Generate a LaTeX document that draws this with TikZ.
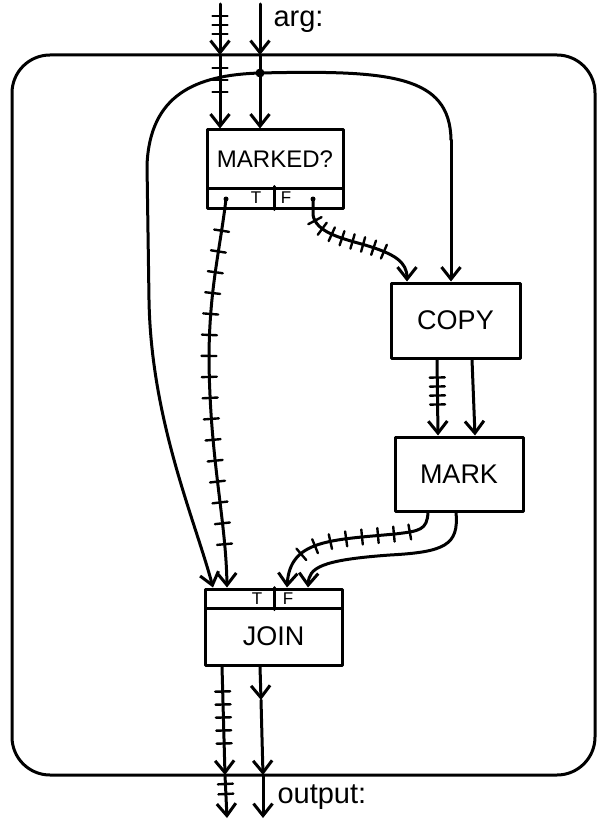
\documentclass[tikz,border=0pt]{standalone}
\usepackage{fontspec}
\setmainfont{Liberation Sans}
\usetikzlibrary{arrows.meta,decorations.markings}
\tikzset{
  arr/.style={-{Straight Barb[length=12pt,width=19pt]}},
  hatch/.style n args={3}{postaction={decorate},decoration={markings,
     mark=between positions #1 and #2 step #3 with {\draw[-,line width=2.4pt] (0,-7.5pt) -- (0,7.5pt);}}},
  box/.style={draw,rectangle,inner sep=0pt,line width=3pt,font=\fontsize{27}{30}\selectfont},
  strip/.style={draw,rectangle,inner sep=0pt,line width=3pt},
  lbl/.style={inner sep=0pt,font=\fontsize{17}{19}\selectfont},
  io/.style={inner sep=0pt,anchor=west,font=\fontsize{29}{32}\selectfont},
}
\begin{document}
\begin{tikzpicture}[x=1pt,y=-1pt,line width=3pt,line cap=round,line join=round]
\useasboundingbox (0,0) rectangle (600,821);
% outer frame
\draw[rounded corners=38pt] (12,55) rectangle (595,775);
% boxes
\node[box,minimum width=136pt,minimum height=58pt,font=\fontsize{24}{27}\selectfont] (marked) at (275,159) {MARKED?};
\node[strip,minimum width=136pt,minimum height=20pt] (markedtf) at (275,198) {};
\node[lbl] (mt) at (256,198) {T};
\node[lbl] (mf) at (286,198) {F};
\draw ([xshift=-1pt]markedtf.north) -- ([xshift=-1pt]markedtf.south);
\node[box,minimum width=129pt,minimum height=75pt] (copy) at (455.5,320.5) {COPY};
\node[box,minimum width=128pt,minimum height=74pt] (mark) at (459,474) {MARK};
\node[strip,minimum width=137pt,minimum height=19pt] (jointf) at (273.5,598.5) {};
\node[lbl] (jt) at (257,599) {T};
\node[lbl] (jf) at (288,599) {F};
\draw ([xshift=0.5pt]jointf.north) -- ([xshift=0.5pt]jointf.south);
\node[box,minimum width=137pt,minimum height=57pt] (join) at (273.5,636.5) {JOIN};
% coordinates
\coordinate (inH) at (220,4);
\coordinate (bH) at (220,55);
\coordinate (inA) at (260,4);
\coordinate (bA) at (260,55);
\coordinate (dot) at (260,73);
\coordinate (c1) at (451,140);
\coordinate (tdot) at (226,199);
\coordinate (fdot) at (313,199);
\coordinate (bH2) at (225,775);
\coordinate (outH) at (227,818);
\coordinate (m1) at (261,700);
\coordinate (bA2) at (263,775);
\coordinate (outA) at (263,818);
\fill (dot) circle (4.5pt);
\fill (tdot) circle (2.5pt);
\fill (fdot) circle (2.5pt);
% labels
\node[io] (arg) at (272,22) {arg:};
\node[io] (out) at (276,797) {output:};
% top inputs
\draw[arr,hatch={12pt}{32pt}{9pt}] (inH) -- (bH);
\draw[arr,hatch={13pt}{38pt}{12pt}] (bH) -- (marked.north -| bH);
\draw[arr] (inA) -- (bA);
\draw (bA) -- (dot);
\draw[arr] (dot) -- (marked.north -| dot);
% dot to join and copy
\draw[arr] (dot) .. controls (195,75) and (150,95) .. (147,165) -- (149,300)
   .. controls (151,420) and (195,520) .. ([xshift=-60.5pt]jointf.north);
\draw (dot) .. controls (390,70) and (450,75) .. (c1);
\draw[arr] (c1) -- (copy.north -| c1);
% T branch
\draw[arr,hatch={32pt}{-30pt}{21pt}] (tdot) .. controls (220,250) and (209,290) .. (209,360)
   .. controls (210,460) and (226,520) .. ([xshift=-46.5pt]jointf.north);
% F branch
\draw[arr,hatch={22pt}{-30pt}{11pt}] (fdot) -- (313,215) .. controls (316,232) and (340,238) .. (365,245)
   .. controls (395,254) and (407,262) .. ([xshift=-48.5pt]copy.north);
% copy to mark
\draw[arr,hatch={18pt}{46pt}{9pt}] ([xshift=-18.5pt]copy.south) -- ([xshift=-21pt]mark.north);
\draw[arr] ([xshift=16.5pt]copy.south) -- ([xshift=16pt]mark.north);
% mark to join
\draw[arr,hatch={30pt}{-30pt}{16pt}] ([xshift=-31pt]mark.south) .. controls (427,530) and (420,531) .. (395,534)
   .. controls (330,540) and (290,540) .. ([xshift=13.5pt]jointf.north);
\draw[arr] ([xshift=-3pt]mark.south) .. controls (459,545) and (445,552) .. (390,555)
   .. controls (320,560) and (309,568) .. ([xshift=34.5pt]jointf.north);
% outputs
\draw[arr,hatch={25pt}{78pt}{13pt}] ([xshift=-51.5pt]join.south) -- (bH2);
\draw[arr,hatch={9pt}{20pt}{10pt}] (bH2) -- (outH);
\draw[arr] ([xshift=-13.5pt]join.south) -- (m1);
\draw[arr] (m1) -- (bA2);
\draw[arr] (bA2) -- (outA);
\end{tikzpicture}
\end{document}
